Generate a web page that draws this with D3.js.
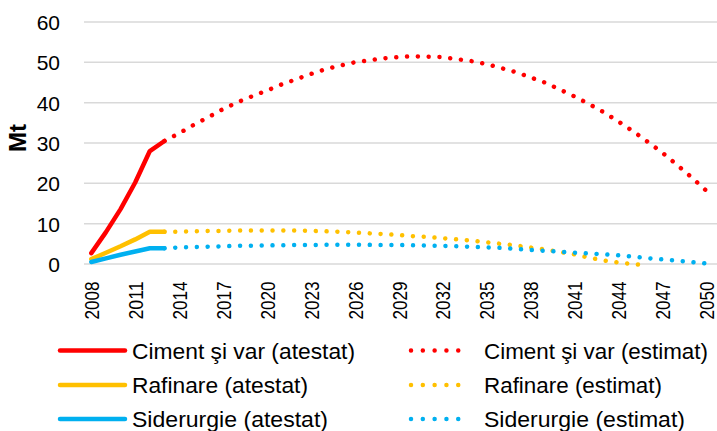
<!DOCTYPE html>
<html>
<head>
<meta charset="utf-8">
<script src="https://cdn.jsdelivr.net/npm/d3@7"></script>
<style>
  html, body { margin: 0; padding: 0; background: #fff; }
  svg { display: block; }
</style>
</head>
<body>
<svg id="chart" width="717" height="431"></svg>
<script>
// ---------- DATA ----------
const years = [2008,2009,2010,2011,2012,2013,2014,2015,2016,2017,2018,2019,2020,2021,2022,2023,2024,2025,2026,2027,2028,2029,2030,2031,2032,2033,2034,2035,2036,2037,2038,2039,2040,2041,2042,2043,2044,2045,2046,2047,2048,2049,2050];
const tickYears = [2008,2011,2014,2017,2020,2023,2026,2029,2032,2035,2038,2041,2044,2047,2050];
const yTicks = [0,10,20,30,40,50,60];
const yTitle = "Mt";

// attested: 2008-2013
const cementActual   = [2.7, 7.9, 13.6, 20.2, 28.0, 30.5];
const refiningActual = [1.2, 2.8, 4.4, 6.1, 8.0, 8.0];
const steelActual    = [0.5, 1.4, 2.3, 3.1, 3.9, 3.9];
const actualStart = 2008;

// estimated: from 2013
const cementEstimated = [30.5,32.4,34.5,36.4,38.4,40.1,41.6,43.0,44.5,45.8,47.1,48.3,49.2,50.0,50.5,51.0,51.3,51.5,51.4,51.3,50.8,50.3,49.6,48.6,47.6,46.3,45.0,43.3,41.6,39.7,37.7,35.4,33.0,30.4,27.7,24.7,21.6,18.3];
const refiningEstimated = [8.0,8.0,8.1,8.2,8.2,8.3,8.3,8.3,8.3,8.3,8.2,8.1,8.0,7.8,7.6,7.4,7.2,6.9,6.7,6.4,6.1,5.8,5.4,5.0,4.6,4.1,3.6,3.0,2.4,1.6,0.9,0.4,0.0,-0.4];
const steelEstimated = [3.9,4.1,4.2,4.3,4.4,4.5,4.55,4.6,4.65,4.7,4.7,4.75,4.75,4.75,4.75,4.7,4.7,4.65,4.55,4.5,4.4,4.25,4.1,4.0,3.75,3.5,3.25,3.05,2.8,2.6,2.4,2.15,1.85,1.45,1.15,0.85,0.5,0.15];
const estimatedStart = 2013;

const seriesNames = ["Ciment şi var (atestat)", "Ciment şi var (estimat)", "Rafinare (atestat)", "Rafinare (estimat)", "Siderurgie (atestat)", "Siderurgie (estimat)"];
const colors = { cement: "#FF0000", refining: "#FFC000", steel: "#00B0F0" };

// ---------- CHART ----------
const svg = d3.select("#chart");
const plotLeft = 84, plotRight = 713, plotTop = 22, plotBottom = 264;
const FONT = "'Liberation Sans', Arial, sans-serif";

const x = d3.scalePoint().domain(years).range([plotLeft, plotRight]).padding(0.5);
const y = d3.scaleLinear().domain([0, 60]).range([plotBottom, plotTop]);

// gridlines
svg.append("g").selectAll("line").data(yTicks).join("line")
  .attr("x1", plotLeft).attr("x2", 717)
  .attr("y1", d => y(d)).attr("y2", d => y(d))
  .attr("stroke", "#d9d9d9").attr("stroke-width", 1.5);

// y axis labels
const yAxis = d3.axisLeft(y).tickValues(yTicks).tickSize(0).tickPadding(0);
const gy = svg.append("g").attr("transform", "translate(60,0)").call(yAxis);
gy.select(".domain").remove();
gy.selectAll("text").attr("font-family", FONT).attr("font-size", 21).attr("fill", "#000").attr("dy", "0.36em");

// y title
svg.append("text").attr("transform", "translate(26,138) rotate(-90)")
  .attr("text-anchor", "middle").attr("font-family", FONT).attr("font-weight", "bold")
  .attr("font-size", 24).attr("fill", "#000").text(yTitle);

// x axis labels
const xAxis = d3.axisBottom(x).tickValues(tickYears).tickSize(0).tickPadding(0);
const gx = svg.append("g").attr("transform", `translate(0,${plotBottom})`).call(xAxis);
gx.select(".domain").remove();
gx.selectAll("text")
  .attr("font-family", FONT).attr("font-size", 21).attr("fill", "#000")
  .attr("text-anchor", "end").attr("dy", null)
  .attr("textLength", 38).attr("lengthAdjust", "spacingAndGlyphs")
  .attr("transform", "translate(0,17.5) rotate(-90)")
  .attr("x", 0).attr("y", 0).attr("dominant-baseline", "central");

function toPoints(vals, start) {
  return vals.map((v, i) => ({ year: start + i, v }));
}
const line = d3.line().x(d => x(d.year)).y(d => y(d.v));

const dotted = "0.01 10.8";
const layers = [
  { vals: cementActual, start: actualStart, color: colors.cement, dash: null },
  { vals: cementEstimated, start: estimatedStart, color: colors.cement, dash: dotted },
  { vals: refiningActual, start: actualStart, color: colors.refining, dash: null },
  { vals: refiningEstimated, start: estimatedStart, color: colors.refining, dash: dotted },
  { vals: steelActual, start: actualStart, color: colors.steel, dash: null },
  { vals: steelEstimated, start: estimatedStart, color: colors.steel, dash: dotted }
];
layers.forEach(s => {
  svg.append("path").datum(toPoints(s.vals, s.start))
    .attr("d", line).attr("fill", "none")
    .attr("stroke", s.color).attr("stroke-width", 4.5)
    .attr("stroke-linecap", "round").attr("stroke-linejoin", "round")
    .attr("stroke-dasharray", s.dash);
});

// legend
const legendRows = [350.5, 385, 419];
const legendItems = [
  { name: seriesNames[0], color: colors.cement, dash: null, col: 0, row: 0, w: 223 },
  { name: seriesNames[1], color: colors.cement, dash: "0.01 11.8", col: 1, row: 0, w: 224 },
  { name: seriesNames[2], color: colors.refining, dash: null, col: 0, row: 1, w: 176 },
  { name: seriesNames[3], color: colors.refining, dash: "0.01 11.8", col: 1, row: 1, w: 178 },
  { name: seriesNames[4], color: colors.steel, dash: null, col: 0, row: 2, w: 196 },
  { name: seriesNames[5], color: colors.steel, dash: "0.01 11.8", col: 1, row: 2, w: 201 }
];
const cols = [ { x1: 60, x2: 125, tx: 132 }, { x1: 411, x2: 470.02, tx: 484 } ];
legendItems.forEach(it => {
  const c = cols[it.col], yy = legendRows[it.row];
  svg.append("line").attr("x1", c.x1).attr("x2", c.x2).attr("y1", yy).attr("y2", yy)
    .attr("stroke", it.color).attr("stroke-width", 4.5).attr("stroke-linecap", "round")
    .attr("stroke-dasharray", it.dash);
  svg.append("text").attr("x", c.tx).attr("y", yy).attr("dy", "0.36em")
    .attr("font-family", FONT).attr("font-size", 22.5).attr("fill", "#000")
    .attr("textLength", it.w).attr("lengthAdjust", "spacingAndGlyphs")
    .text(it.name);
});
</script>
</body>
</html>
